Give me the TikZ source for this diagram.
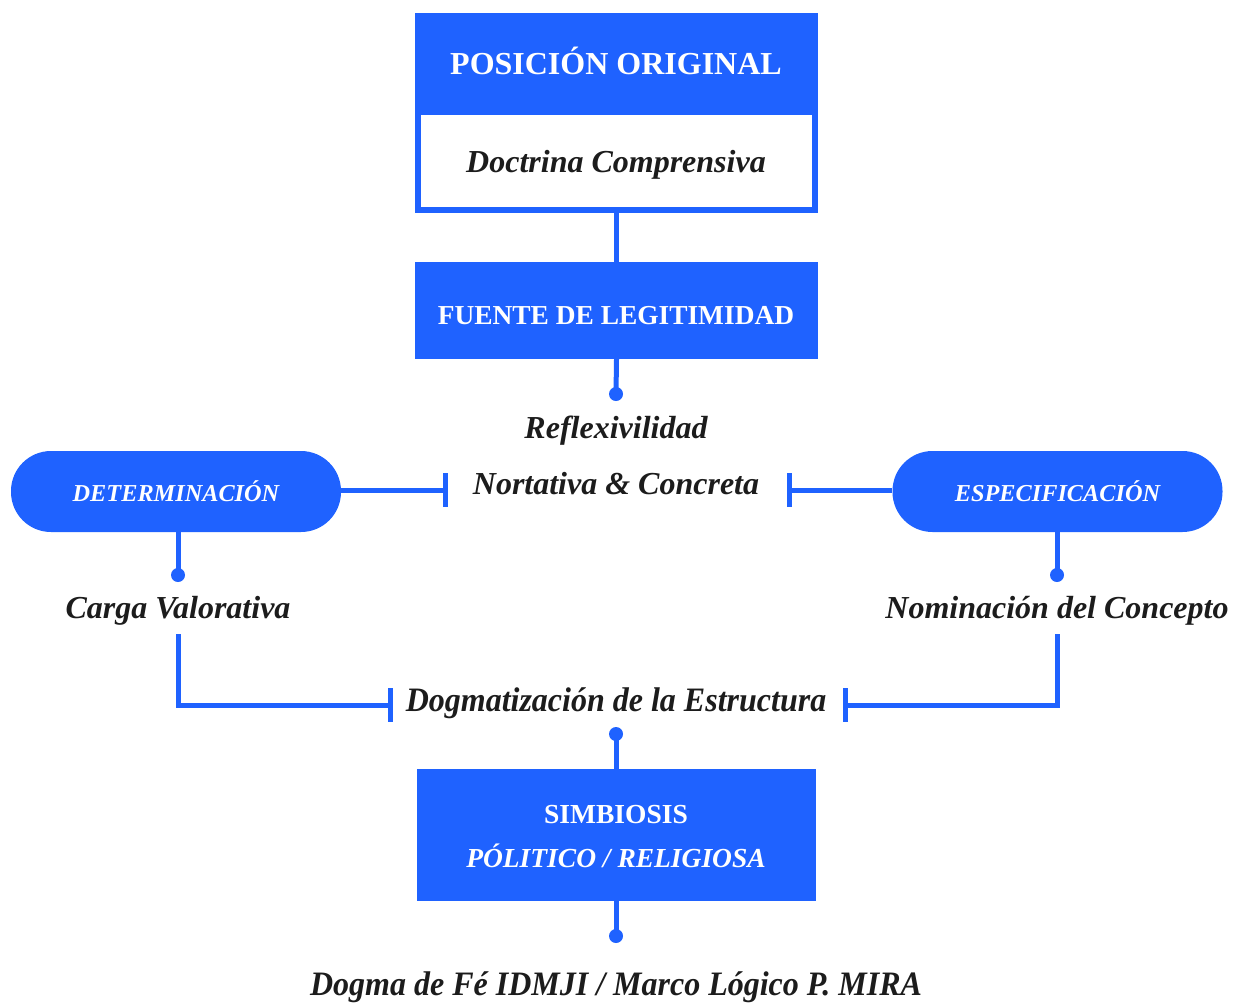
\documentclass[tikz,border=0pt]{standalone}
\usepackage{fontspec}
\setmainfont{Liberation Serif}
\usepackage{graphicx}
\definecolor{bl}{RGB}{31,98,255}
\definecolor{ink}{RGB}{28,28,28}
\begin{document}
\begin{tikzpicture}[x=1pt,y=-1pt,
  blk/.style={fill=bl, draw=none, inner sep=0pt, text=white, align=center,
    font=\bfseries\fontsize{27.5}{40}\selectfont},
  lbl/.style={text=ink, inner sep=0pt, font=\bfseries\itshape\fontsize{32}{38}\selectfont},
  pill/.style={fill=bl, draw=none, rounded corners=40pt, minimum width=330pt, minimum height=81pt,
    inner sep=0pt, text=white, font=\bfseries\itshape\fontsize{24.3}{29}\selectfont},
  conn/.style={draw=bl, line width=5pt},
  dot/.style={circle, fill=bl, draw=none, minimum size=14pt, inner sep=0pt}
]
\useasboundingbox (0,0) rectangle (1239,1002);
% top block
\node[draw=bl, line width=6pt, fill=white, minimum width=397pt, minimum height=98pt, inner sep=0pt] (doc) at (616.5,161) {};
\node[lbl] (doctxt) at (616,165) {Doctrina Comprensiva};
\node[blk, minimum width=403pt, minimum height=99pt] (pos) at (616.5,62.5) {};
\node[blk, font=\bfseries\fontsize{32}{38}\selectfont] (postxt) at (616,61) {POSICIÓN ORIGINAL};
% fuente
\node[blk, minimum width=403pt, minimum height=97pt] (fue) at (616.5,310.5) {};
\node[blk, font=\bfseries\fontsize{27.4}{32}\selectfont] (fuetxt) at (616,316) {FUENTE DE LEGITIMIDAD};
\draw[conn] (doc.south) -- (fue.north);
\node[dot] (d1) at (616,394) {};
\draw[conn] (fue.south) -- (d1.center);
\node[lbl] (refl) at (616,431) {Reflexivilidad};
\node[lbl] (nort) at (616,484) {Nortativa \& Concreta};
% pills
\node[pill] (det) at (176,491.5) {DETERMINACIÓN};
\node[pill] (esp) at (1057.5,491.5) {ESPECIFICACIÓN};
\coordinate (bl1) at (445,490);
\coordinate (br1) at (789,490);
\draw[conn] (det.east |- bl1) -- (bl1);
\draw[conn] (bl1 |- 0,473) -- (bl1 |- 0,507);
\draw[conn] (esp.west |- br1) -- (br1);
\draw[conn] (br1 |- 0,473) -- (br1 |- 0,507);
% left branch
\node[dot] (d2) at (178,575) {};
\draw[conn] (178,532) -- (d2.center);
\node[lbl] (carga) at (178,611) {Carga Valorativa};
% right branch
\node[dot] (d3) at (1057,575) {};
\draw[conn] (1057,532) -- (d3.center);
\node[lbl] (nomi) at (1057,611) {Nominación del Concepto};
% dogmatizacion
\node[lbl] (dogm) at (616,703) {\scalebox{1.0}[1.07]{Dogmatización de la Estructura}};
\coordinate (bl2) at (390,705);
\coordinate (br2) at (845,705);
\draw[conn] (178,634) |- (bl2);
\draw[conn] (bl2 |- 0,688) -- (bl2 |- 0,722);
\draw[conn] (1057,634) |- (br2);
\draw[conn] (br2 |- 0,688) -- (br2 |- 0,722);
% simbiosis
\node[dot] (d4) at (616,734) {};
\node[blk, minimum width=399pt, minimum height=132pt] (sim) at (616.5,835) {};
\node[blk] (simt1) at (616,815) {SIMBIOSIS};
\node[blk, font=\bfseries\itshape\fontsize{27.5}{32}\selectfont] (simt2) at (616,856) {PÓLITICO / RELIGIOSA};
\draw[conn] (d4.center) -- (d4.center |- sim.north);
\node[dot] (d5) at (616,936) {};
\draw[conn] (d5.center |- sim.south) -- (d5.center);
\node[lbl] (dogma) at (616,987) {\scalebox{1.0}[1.07]{Dogma de Fé IDMJI / Marco Lógico P. MIRA}};
\end{tikzpicture}
\end{document}
